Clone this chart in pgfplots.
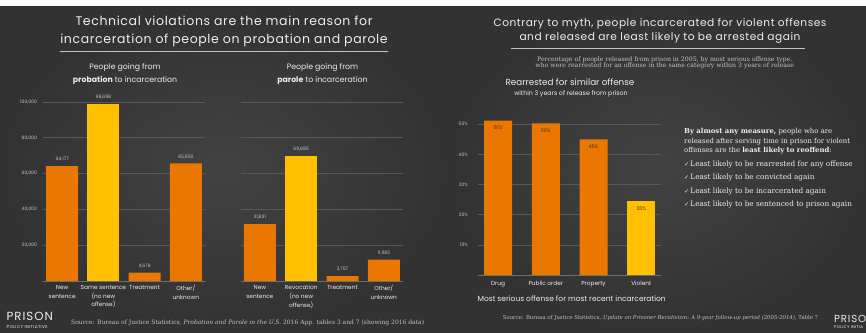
\documentclass[border=0pt]{standalone}
\usepackage{pgfplots}
\pgfplotsset{compat=1.18}
\usepackage{fontspec}
\setmainfont{Poppins}
\newfontfamily\titlefont[LetterSpace=5]{Poppins}
\newfontfamily\logofont[LetterSpace=8]{Poppins}
\newfontfamily\serif{DejaVu Serif}
\newfontfamily\symb{DejaVu Sans}
\definecolor{bgin}{RGB}{66,66,66}
\definecolor{bgout}{RGB}{50,50,50}
\definecolor{orng}{RGB}{233,119,0}
\definecolor{yel}{RGB}{255,192,0}
\definecolor{gridc}{RGB}{88,88,88}
\definecolor{basec}{RGB}{110,110,110}
\definecolor{txt}{RGB}{238,238,238}
\definecolor{tickc}{RGB}{195,195,195}
\definecolor{dark}{RGB}{50,50,50}
\pgfplotsset{
  panel/.style={
    scale only axis, clip=false,
    axis line style={draw=none},
    tick style={draw=none},
    scaled y ticks=false,
    ymajorgrids, grid style={gridc, line width=0.6pt},
    extra y ticks={0}, extra y tick labels={},
    extra y tick style={grid style={basec, line width=0.7pt}},
    xtick={0,1,2,3},
    bar shift=0pt,
    /pgf/number format/assume math mode=true,
    yticklabel style={font=\fontsize{4.6}{5}\selectfont, text=tickc, xshift=-2.5pt},
    xticklabel style={font=\fontsize{5.8}{8.6}\selectfont, text=txt, align=center, yshift=-1pt},
    point meta=explicit symbolic,
  },
  topval/.style={nodes near coords, every node near coord/.append style={font=\fontsize{4.6}{5}\selectfont, text=tickc, yshift=1.2pt}},
}
\begin{document}
\begin{tikzpicture}[x=1pt,y=1pt]
\useasboundingbox (0,0) rectangle (866,332);
\clip (0,0) rectangle (866,332);
\fill[white] (0,0) rectangle (866,332);
\shade[inner color=bgin, outer color=bgout] (0,0) rectangle (449,325);
\shade[inner color=bgin, outer color=bgout] (449,0) rectangle (866,325);

% ---------- left panel titles
\node[align=center, text=txt, font=\titlefont\fontsize{12.5}{17.7}\selectfont] at (224,300.9)
  {Technical violations are the main reason for\\incarceration of people on probation and parole};
\draw[tickc, line width=0.6pt] (60,280.3) -- (388,280.3);
\node[align=center, text=txt, font=\fontsize{7.8}{12.7}\selectfont] at (125,257.6)
  {People going from\\\textbf{probation} to incarceration};
\node[align=center, text=txt, font=\fontsize{7.8}{12.7}\selectfont] at (322.5,257.6)
  {People going from\\\textbf{parole} to incarceration};

% ---------- probation chart
\begin{axis}[panel, at={(43pt,51pt)}, anchor=south west, width=162pt, height=179pt,
  xmin=-0.465, xmax=3.465, ymin=0, ymax=100000, bar width=32pt,
  ytick={20000,40000,60000,80000,100000},
  yticklabels={{20,000},{40,000},{60,000},{80,000},{100,000}},
  xticklabels={New\\sentence, Same sentence\\(no new\\offense), Treatment, Other/\\unknown}]
\addplot[ybar, bar shift=0pt, fill=orng, draw=none, topval] coordinates {(0,64177) [64,177] (2,4678) [4,678] (3,65650) [65,650]};
\addplot[ybar, bar shift=0pt, fill=yel, draw=none, topval] coordinates {(1,98698) [98,698]};
\end{axis}

% ---------- parole chart
\begin{axis}[panel, at={(240.7pt,51pt)}, anchor=south west, width=162.3pt, height=179pt,
  xmin=-0.465, xmax=3.465, ymin=0, ymax=100000, bar width=32pt,
  ytick={20000,40000,60000,80000,100000}, yticklabels={},
  xticklabels={New\\sentence, Revocation\\(no new\\offense), Treatment, Other/\\unknown}]
\addplot[ybar, bar shift=0pt, fill=orng, draw=none, topval] coordinates {(0,31831) [31,831] (2,2757) [2,757] (3,11982) [11,982]};
\addplot[ybar, bar shift=0pt, fill=yel, draw=none, topval] coordinates {(1,69885) [69,885]};
\end{axis}

% ---------- left source & logo
\node[anchor=west, text=tickc, font=\serif\fontsize{6}{6.5}\selectfont, inner sep=0pt] at (71,9.3)
  {Source: Bureau of Justice Statistics, \textit{Probation and Parole in the U.S.} 2016 App. tables 3 and 7 (showing 2016 data)};
\node[anchor=west, text=txt, font=\logofont\fontsize{11.8}{12}\selectfont, inner sep=0pt] at (6.5,15.5) {PRISON};
\node[anchor=west, text=txt, font=\logofont\fontsize{4.3}{5}\selectfont, inner sep=0pt] at (6.5,5.0) {POLICY INITIATIVE};

% ---------- right panel titles
\node[align=center, text=txt, font=\titlefont\fontsize{10.6}{13.4}\selectfont] at (660,301)
  {Contrary to myth, people incarcerated for violent offenses\\and released are least likely to be arrested again};
\draw[tickc, line width=0.6pt] (511,283.7) -- (805,283.7);
\node[align=center, text=tickc, font=\serif\fontsize{6.2}{6.4}\selectfont] at (664.7,269.2)
  {Percentage of people released from prison in 2005, by most serious offense type,\\who were rearrested for an offense in the same category within 3 years of release};
\node[text=txt, font=\fontsize{8.8}{9}\selectfont] at (570,249.7) {Rearrested for similar offense};
\node[text=txt, font=\fontsize{6.3}{7}\selectfont] at (571,237.7) {within 3 years of release from prison};

% ---------- recidivism chart
\begin{axis}[panel, at={(478pt,57pt)}, anchor=south west, width=183.3pt, height=150.7pt,
  xmin=-0.42, xmax=3.42, ymin=0, ymax=50, bar width=28pt,
  ytick={10,20,30,40,50}, yticklabels={10\%,20\%,30\%,40\%,50\%},
  yticklabel style={xshift=-4pt},
  xticklabels={Drug, Public order, Property, Violent},
  xticklabel style={yshift=-1.5pt},
  xlabel={Most serious offense for most recent incarceration},
  xlabel style={at={(axis description cs:0.5,0)}, anchor=center, yshift=-23.7pt, xshift=2pt, font=\fontsize{7.5}{8}\selectfont, text=txt},
  nodes near coords, nodes near coords align={anchor=north},
  every node near coord/.append style={font=\fontsize{4.8}{5}\selectfont, text=dark, yshift=-1.8pt}]
\addplot[ybar, bar shift=0pt, fill=orng, draw=none] coordinates {(0,51.2) [51\%] (1,50.3) [50\%] (2,45.0) [45\%]};
\addplot[ybar, bar shift=0pt, fill=yel, draw=none] coordinates {(3,24.5) [25\%]};
\end{axis}

% ---------- right text block
\node[anchor=north west, align=left, text=txt, font=\serif\fontsize{6.9}{9.7}\selectfont, inner sep=0pt] at (684,204)
  {\textbf{By almost any measure,} people who are\\released after serving time in prison for violent\\offenses are the \textbf{least likely to reoffend}:};
\foreach \yy/\tt in {167.7/Least likely to be rearrested for any offense, 154/Least likely to be convicted again, 140.7/Least likely to be incarcerated again, 127/Least likely to be sentenced to prison again}{
  \node[anchor=west, text=txt, font=\serif\fontsize{7.3}{8}\selectfont, inner sep=0pt] at (684,\yy) {{\symb\fontsize{6}{6}\selectfont ✓}\,\tt};
}

% ---------- right source & logo
\node[text=tickc, font=\serif\fontsize{5.35}{6}\selectfont] at (660.5,13.7)
  {Source: Bureau of Justice Statistics, \textit{Update on Prisoner Recidivism: A 9-year follow-up period (2005-2014)}, Table 7};
\node[anchor=west, text=txt, font=\logofont\fontsize{10.2}{11}\selectfont, inner sep=0pt] at (834,13) {PRISO};
\node[anchor=west, text=txt, font=\logofont\fontsize{4}{5}\selectfont, inner sep=0pt] at (834,4.5) {POLICY INITIA};
\end{tikzpicture}
\end{document}
